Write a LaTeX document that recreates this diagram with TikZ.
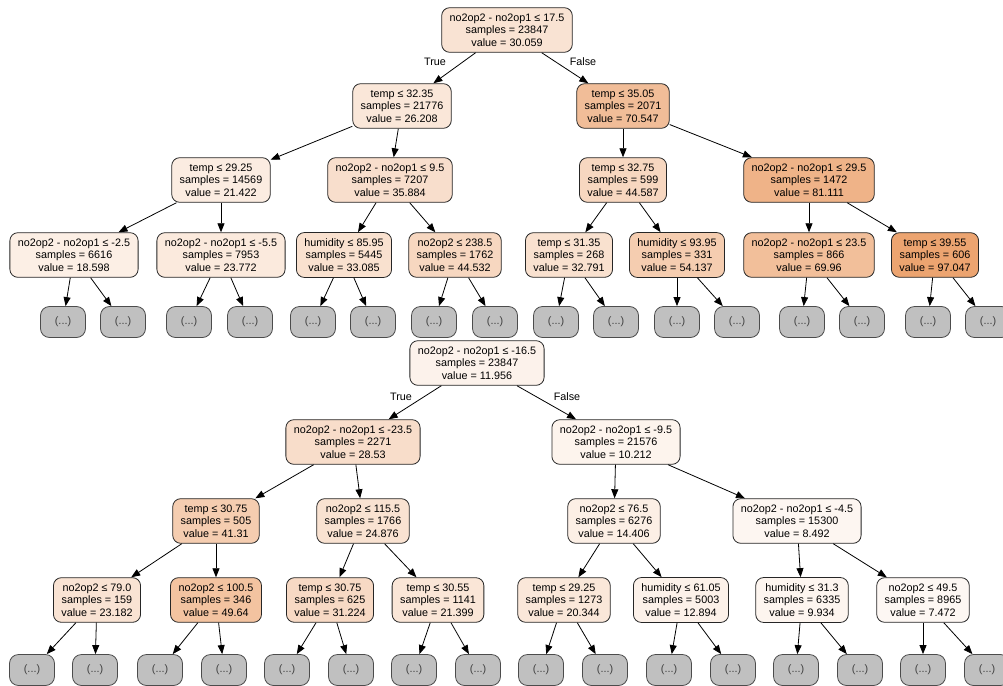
\documentclass[tikz,border=0pt]{standalone}
\usepackage{fontspec}
\usepackage{xcolor}
\usetikzlibrary{shapes,arrows.meta,positioning,calc}
\newfontfamily\treefont{Liberation Sans}
\definecolor{dtorange}{RGB}{229,129,57}
\definecolor{leafgray}{RGB}{192,192,192}

\begin{document}
\begin{tikzpicture}[
    x=1pt, y=-1pt,
    split/.style={rectangle, draw=black!85, fill=dtorange!#1, rounded corners=8pt, align=center, line width=0.8pt, inner xsep=8pt, inner ysep=6pt, font=\treefont\fontsize{10.8}{12.5}\selectfont},
    more/.style={rectangle, draw=black!70, fill=leafgray, rounded corners=9pt, minimum width=45pt, minimum height=31pt, line width=0.8pt, text=black!75, font=\treefont\fontsize{10.8}{12.5}\selectfont},
    branch/.style={-{Triangle[length=9pt,width=7pt]}, line width=0.8pt, black},
    tf/.style={font=\treefont\fontsize{10.8}{12.5}\selectfont}
]
\useasboundingbox (0,0) rectangle (1003,685);
\clip (0,0) rectangle (1003,685);

% Upper tree
\node[split=22] (a) at (507,30) {no2op2 - no2op1 ≤ 17.5\\samples = 23847\\value = 30.059};
\node[split=19] (a0) at (402,106) {temp ≤ 32.35\\samples = 21776\\value = 26.208};
\node[split=52] (a1) at (623,106) {temp ≤ 35.05\\samples = 2071\\value = 70.547};
\node[split=15] (a00) at (221,180) {temp ≤ 29.25\\samples = 14569\\value = 21.422};
\node[split=26] (a01) at (390,180) {no2op2 - no2op1 ≤ 9.5\\samples = 7207\\value = 35.884};
\node[split=32] (a10) at (623,180) {temp ≤ 32.75\\samples = 599\\value = 44.587};
\node[split=60] (a11) at (809,180) {no2op2 - no2op1 ≤ 29.5\\samples = 1472\\value = 81.111};
\node[split=13] (a000) at (74,255) {no2op2 - no2op1 ≤ -2.5\\samples = 6616\\value = 18.598};
\node[split=17] (a001) at (221,255) {no2op2 - no2op1 ≤ -5.5\\samples = 7953\\value = 23.772};
\node[split=24] (a010) at (344,255) {humidity ≤ 85.95\\samples = 5445\\value = 33.085};
\node[split=32] (a011) at (455,255) {no2op2 ≤ 238.5\\samples = 1762\\value = 44.532};
\node[split=24] (a100) at (569,255) {temp ≤ 31.35\\samples = 268\\value = 32.791};
\node[split=40] (a101) at (677,255) {humidity ≤ 93.95\\samples = 331\\value = 54.137};
\node[split=51] (a110) at (809,255) {no2op2 - no2op1 ≤ 23.5\\samples = 866\\value = 69.96};
\node[split=72] (a111) at (935,255) {temp ≤ 39.55\\samples = 606\\value = 97.047};

% Upper tree, cut branches
\node[more] (a0000) at (63,322) {(...)};
\node[more] (a0001) at (123,322) {(...)};
\node[more] (a0010) at (189,322) {(...)};
\node[more] (a0011) at (250,322) {(...)};
\node[more] (a0100) at (313,322) {(...)};
\node[more] (a0101) at (373,322) {(...)};
\node[more] (a0110) at (434,322) {(...)};
\node[more] (a0111) at (495,322) {(...)};
\node[more] (a1000) at (556,322) {(...)};
\node[more] (a1001) at (616,322) {(...)};
\node[more] (a1010) at (677,322) {(...)};
\node[more] (a1011) at (737,322) {(...)};
\node[more] (a1100) at (802,322) {(...)};
\node[more] (a1101) at (862,322) {(...)};
\node[more] (a1110) at (928,322) {(...)};
\node[more] (a1111) at (988,322) {(...)};

% Upper tree, edges
\draw[branch] (a) -- (a0);
\draw[branch] (a) -- (a1);
\node[tf] (atrue) at (435,62) {True};
\node[tf] (afalse) at (583,62) {False};
\draw[branch] (a0) -- (a00);
\draw[branch] (a0) -- (a01);
\draw[branch] (a1) -- (a10);
\draw[branch] (a1) -- (a11);
\draw[branch] (a00) -- (a000);
\draw[branch] (a00) -- (a001);
\draw[branch] (a01) -- (a010);
\draw[branch] (a01) -- (a011);
\draw[branch] (a10) -- (a100);
\draw[branch] (a10) -- (a101);
\draw[branch] (a11) -- (a110);
\draw[branch] (a11) -- (a111);
\draw[branch] (a000) -- (a0000);
\draw[branch] (a000) -- (a0001);
\draw[branch] (a001) -- (a0010);
\draw[branch] (a001) -- (a0011);
\draw[branch] (a010) -- (a0100);
\draw[branch] (a010) -- (a0101);
\draw[branch] (a011) -- (a0110);
\draw[branch] (a011) -- (a0111);
\draw[branch] (a100) -- (a1000);
\draw[branch] (a100) -- (a1001);
\draw[branch] (a101) -- (a1010);
\draw[branch] (a101) -- (a1011);
\draw[branch] (a110) -- (a1100);
\draw[branch] (a110) -- (a1101);
\draw[branch] (a111) -- (a1110);
\draw[branch] (a111) -- (a1111);

% Lower tree
\node[split=10] (b) at (477,363) {no2op2 - no2op1 ≤ -16.5\\samples = 23847\\value = 11.956};
\node[split=27] (b0) at (353,442) {no2op2 - no2op1 ≤ -23.5\\samples = 2271\\value = 28.53};
\node[split=9] (b1) at (616,442) {no2op2 - no2op1 ≤ -9.5\\samples = 21576\\value = 10.212};
\node[split=40] (b00) at (216,521) {temp ≤ 30.75\\samples = 505\\value = 41.31};
\node[split=23] (b01) at (363,521) {no2op2 ≤ 115.5\\samples = 1766\\value = 24.876};
\node[split=13] (b10) at (614,521) {no2op2 ≤ 76.5\\samples = 6276\\value = 14.406};
\node[split=7] (b11) at (797,521) {no2op2 - no2op1 ≤ -4.5\\samples = 15300\\value = 8.492};
\node[split=22] (b000) at (97,600) {no2op2 ≤ 79.0\\samples = 159\\value = 23.182};
\node[split=48] (b001) at (216,600) {no2op2 ≤ 100.5\\samples = 346\\value = 49.64};
\node[split=30] (b010) at (330,600) {temp ≤ 30.75\\samples = 625\\value = 31.224};
\node[split=20] (b011) at (438,600) {temp ≤ 30.55\\samples = 1141\\value = 21.399};
\node[split=19] (b100) at (564,600) {temp ≤ 29.25\\samples = 1273\\value = 20.344};
\node[split=11] (b101) at (681,600) {humidity ≤ 61.05\\samples = 5003\\value = 12.894};
\node[split=8] (b110) at (802,600) {humidity ≤ 31.3\\samples = 6335\\value = 9.934};
\node[split=6] (b111) at (923,600) {no2op2 ≤ 49.5\\samples = 8965\\value = 7.472};

% Lower tree, cut branches
\node[more] (b0000) at (32,670) {(...)};
\node[more] (b0001) at (95,670) {(...)};
\node[more] (b0010) at (160,670) {(...)};
\node[more] (b0011) at (224,670) {(...)};
\node[more] (b0100) at (287,670) {(...)};
\node[more] (b0101) at (351,670) {(...)};
\node[more] (b0110) at (414,670) {(...)};
\node[more] (b0111) at (478,670) {(...)};
\node[more] (b1000) at (541,670) {(...)};
\node[more] (b1001) at (605,670) {(...)};
\node[more] (b1010) at (669,670) {(...)};
\node[more] (b1011) at (733,670) {(...)};
\node[more] (b1100) at (796,670) {(...)};
\node[more] (b1101) at (860,670) {(...)};
\node[more] (b1110) at (923,670) {(...)};
\node[more] (b1111) at (987,670) {(...)};

% Lower tree, edges
\draw[branch] (b) -- (b0);
\draw[branch] (b) -- (b1);
\node[tf] (btrue) at (401,397) {True};
\node[tf] (bfalse) at (567,397) {False};
\draw[branch] (b0) -- (b00);
\draw[branch] (b0) -- (b01);
\draw[branch] (b1) -- (b10);
\draw[branch] (b1) -- (b11);
\draw[branch] (b00) -- (b000);
\draw[branch] (b00) -- (b001);
\draw[branch] (b01) -- (b010);
\draw[branch] (b01) -- (b011);
\draw[branch] (b10) -- (b100);
\draw[branch] (b10) -- (b101);
\draw[branch] (b11) -- (b110);
\draw[branch] (b11) -- (b111);
\draw[branch] (b000) -- (b0000);
\draw[branch] (b000) -- (b0001);
\draw[branch] (b001) -- (b0010);
\draw[branch] (b001) -- (b0011);
\draw[branch] (b010) -- (b0100);
\draw[branch] (b010) -- (b0101);
\draw[branch] (b011) -- (b0110);
\draw[branch] (b011) -- (b0111);
\draw[branch] (b100) -- (b1000);
\draw[branch] (b100) -- (b1001);
\draw[branch] (b101) -- (b1010);
\draw[branch] (b101) -- (b1011);
\draw[branch] (b110) -- (b1100);
\draw[branch] (b110) -- (b1101);
\draw[branch] (b111) -- (b1110);
\draw[branch] (b111) -- (b1111);
\end{tikzpicture}
\end{document}
